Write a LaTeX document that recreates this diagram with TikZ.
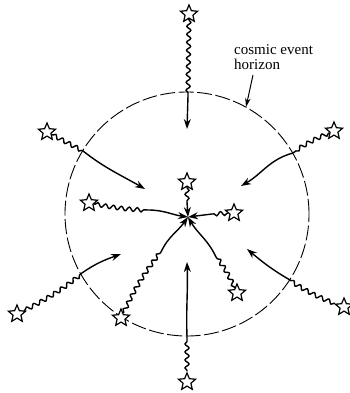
\documentclass[tikz,border=0pt]{standalone}
\usepackage{fontspec}
\setmainfont{Liberation Serif}
\usetikzlibrary{arrows.meta, calc, positioning, decorations.pathmorphing, shapes.geometric}

\tikzset{
  starnode/.style={star, star points=5, star point ratio=2.2, draw, fill=white,
    line width=1.2pt, minimum size=18pt, inner sep=0pt},
  wave/.style={decorate, decoration={snake, amplitude=2pt, segment length=8pt,
    pre length=1pt, post length=1pt}, line width=1.4pt},
  ray/.style={line width=1.4pt, -{Stealth[length=10pt,width=7pt]}},
  horizon/.style={dash pattern=on 15pt off 3.5pt, line width=0.9pt},
  pointer/.style={line width=1pt, -{Stealth[length=9pt,width=5.5pt]}}
}

\begin{document}
\begin{tikzpicture}[x=1pt, y=-1pt]
\useasboundingbox (0,0) rectangle (349,393);
\draw[horizon] (187,214) circle (122pt);
\coordinate (ctr) at (188,217);

\node[starnode] (s1) at (189,14) {};
\node[starnode] (s2) at (47,132) {};
\node[starnode] (s3) at (334,131) {};
\node[starnode] (s4) at (89,203) {};
\node[starnode] (s5) at (187,182) {};
\node[starnode] (s6) at (234,213) {};
\node[starnode] (s7) at (121,318) {};
\node[starnode] (s8) at (237,293) {};
\node[starnode] (s9) at (187,382) {};
\node[starnode] (s10) at (17,314) {};
\node[starnode] (s11) at (344,307) {};

\coordinate (c1) at (188,96);   \coordinate (e1) at (187,129);
\coordinate (c2) at (83,151);   \coordinate (e2) at (145,189);
\coordinate (c3) at (293,153);  \coordinate (e3) at (241,186);
\coordinate (c4) at (148,210);
\coordinate (c5) at (187,202);
\coordinate (c6) at (212,214);
\coordinate (c7) at (161,252);
\coordinate (c8) at (216,257);
\coordinate (c9) at (187,337);  \coordinate (e9) at (187,262);
\coordinate (c10) at (82,273);  \coordinate (e10) at (121,254);
\coordinate (c11) at (290,280); \coordinate (e11) at (247,249);

\draw[wave] (s1) -- (c1);
\draw[ray] (c1) -- (e1);
\draw[wave] (s2) -- (c2);
\draw[ray] (c2) to[out=-38,in=150] (e2);
\draw[wave] (s3) to[bend right=6] (c3);
\draw[ray] (c3) to[out=-165,in=30] (e3);
\draw[wave] (s4) to[bend right=4] (c4);
\draw[ray] (c4) to[out=0,in=172] (ctr);
\draw[wave] (s5) -- (c5);
\draw[ray] (c5) -- (ctr);
\draw[wave] (s6) -- (c6);
\draw[ray] (c6) -- (ctr);
\draw[wave] (s7) to[bend left=6] (c7);
\draw[ray] (c7) to[out=65,in=-125] (ctr);
\draw[wave] (s8) to[bend right=6] (c8);
\draw[ray] (c8) to[out=115,in=-60] (ctr);
\draw[wave] (s9) -- (c9);
\draw[ray] (c9) to[out=92,in=-88] (e9);
\draw[wave] (s10) to[bend right=6] (c10);
\draw[ray] (c10) to[out=35,in=-160] (e10);
\draw[wave] (s11) to[bend left=6] (c11);
\draw[ray] (c11) to[out=150,in=-40] (e11);

\node[anchor=north west, inner sep=0pt, align=left, font=\fontsize{15}{15}\selectfont]
  (lbl) at (234,44) {cosmic event\\horizon};
\coordinate (tail) at (253,75);
\coordinate (hz) at (246,107);
\draw[pointer] (tail) -- (hz);
\end{tikzpicture}
\end{document}
